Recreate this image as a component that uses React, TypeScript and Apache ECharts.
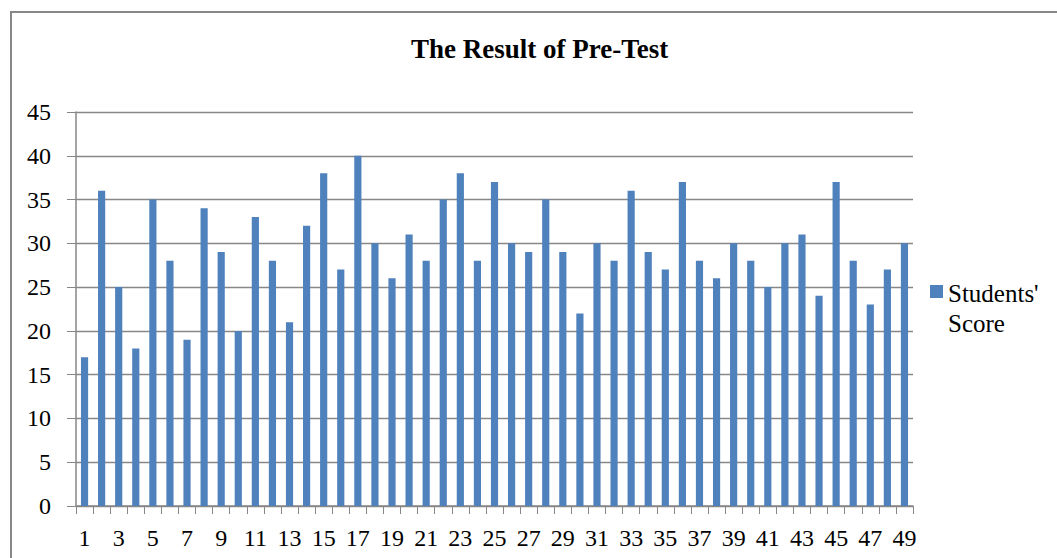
import React, { useEffect, useRef } from "react";
import * as echarts from "echarts";

const categories: string[] = Array.from({ length: 49 }, (_, i) => String(i + 1));
const scores: number[] = [
  17, 36, 25, 18, 35, 28, 19, 34, 29, 20, 33, 28, 21, 32, 38, 27, 40, 30, 26, 31,
  28, 35, 38, 28, 37, 30, 29, 35, 29, 22, 30, 28, 36, 29, 27, 37, 28, 26, 30, 28,
  25, 30, 31, 24, 37, 28, 23, 27, 30,
];
const seriesName = "Students' Score";
const legendLines = ["Students'", "Score"];
const titleText = "The Result of Pre-Test";

const FONT = "Liberation Serif";
const GRAY = "#878787";
const BLUE = "#4F81BD";

export default function App() {
  const ref = useRef<HTMLDivElement>(null);
  useEffect(() => {
    if (!ref.current) return;
    const chart = echarts.init(ref.current, undefined, { renderer: "svg" });
    chart.setOption({
      animation: false,
      backgroundColor: "#ffffff",
      textStyle: { fontFamily: FONT },
      title: {
        text: titleText,
        left: 406,
        top: 30,
        textStyle: { fontFamily: FONT, fontSize: 27, fontWeight: "bold", color: "#000" },
      },
      graphic: [
        {
          type: "rect",
          shape: { x: 11, y: 12, width: 1100, height: 600 },
          style: { fill: "none", stroke: GRAY, lineWidth: 2 },
          silent: true,
        },
        {
          type: "rect",
          shape: { x: 930, y: 285, width: 13, height: 13 },
          style: { fill: BLUE },
          silent: true,
        },
        {
          type: "text",
          x: 948,
          y: 278,
          style: {
            text: legendLines.join("\n"),
            fontFamily: FONT,
            fontSize: 25,
            lineHeight: 30,
            fill: "#000",
            verticalAlign: "top",
          },
          silent: true,
        },
      ],
      grid: { left: 76, right: 144, top: 112, bottom: 52 },
      xAxis: {
        type: "category",
        data: categories,
        axisLine: { show: true, lineStyle: { color: GRAY, width: 1.5 } },
        axisTick: { show: true, interval: 0, length: 8, alignWithLabel: false, lineStyle: { color: GRAY } },
        axisLabel: {
          interval: 1,
          margin: 20,
          fontFamily: FONT,
          fontSize: 24,
          color: "#000",
        },
        splitLine: { show: false },
      },
      yAxis: {
        type: "value",
        min: 0,
        max: 45,
        interval: 5,
        axisLine: { show: true, lineStyle: { color: GRAY, width: 1.5 } },
        axisTick: { show: true, length: 9, lineStyle: { color: GRAY } },
        axisLabel: { margin: 25, fontFamily: FONT, fontSize: 24, color: "#000" },
        splitLine: { show: true, lineStyle: { color: GRAY, width: 1.3 } },
      },
      series: [
        {
          name: seriesName,
          type: "bar",
          data: scores,
          barWidth: "42%",
          itemStyle: { color: BLUE },
        },
      ],
    });
    return () => chart.dispose();
  }, []);
  return (
    <div
      ref={ref}
      style={{ position: "fixed", left: 0, top: 0, width: 1057, height: 558 }}
    />
  );
}
